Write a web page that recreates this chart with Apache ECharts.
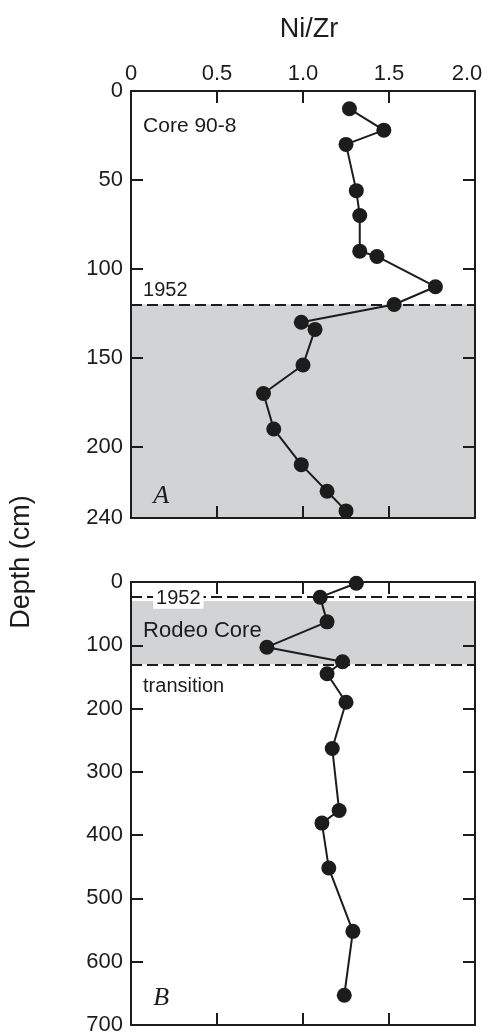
<!DOCTYPE html>
<html>
<head>
<meta charset="utf-8">
<script src="https://cdn.jsdelivr.net/npm/echarts@6/dist/echarts.min.js"></script>
<style>
html,body{margin:0;padding:0;background:#fff;}
#chart{width:485px;height:1036px;}
</style>
</head>
<body>
<div id="chart"></div>
<script>
// ---- data ----
const xTickValues = [0, 0.5, 1.0, 1.5, 2.0];
const topYLabels = [0, 50, 100, 150, 200, 240];
const botYLabels = [0, 100, 200, 300, 400, 500, 600, 700];

// Core 90-8 (panel A)
const topRatio = [1.27, 1.47, 1.25, 1.31, 1.33, 1.33, 1.43, 1.77, 1.53, 0.99, 1.07, 1.00, 0.77, 0.83, 0.99, 1.14, 1.25];
const topDepth = [10, 22, 30, 56, 70, 90, 93, 110, 120, 130, 134, 154, 170, 190, 210, 225, 236];

// Rodeo Core (panel B)
const botRatio = [1.31, 1.10, 1.14, 0.79, 1.23, 1.14, 1.25, 1.17, 1.21, 1.11, 1.15, 1.29, 1.24];
const botDepth = [2, 24, 63, 103, 126, 145, 190, 263, 361, 381, 452, 552, 653];

const topDash = 120;           // 1952 horizon, core 90-8
const topShade = [120, 240];
const botDash = [24, 130];     // 1952 horizon and transition
const botShade = [30, 130];

const INK = '#1c1c1c';
const SHADE = '#d1d3d4';
const FONT = '"Liberation Sans Narrow", "Arial Narrow", "Liberation Sans", sans-serif';

const chart = echarts.init(document.getElementById('chart'), null, {renderer: 'canvas'});

function xAxisDef(gridIndex, position, showLabels) {
  return {
    type: 'value', gridIndex, position, min: 0, max: 2, interval: 0.5, z: 10,
    axisLine: {show: true, onZero: false, lineStyle: {color: INK, width: 2}},
    axisTick: {show: true, inside: true, length: 12, lineStyle: {color: INK, width: 2}},
    axisLabel: {show: showLabels, margin: 6, color: INK, fontSize: 22, fontFamily: FONT,
      customValues: xTickValues,
      formatter: v => v === 0 ? '0' : (v === 2 ? '{m|' + v.toFixed(1) + '}' : v.toFixed(1)),
      rich: {m: {fontSize: 22, fontFamily: FONT, color: INK, padding: [0, 16, 0, 0]}}},
    splitLine: {show: false}
  };
}
function yAxisDef(gridIndex, position, max, interval, labels, showLabels) {
  return {
    type: 'value', gridIndex, position, min: 0, max, interval, inverse: true, z: 10,
    axisLine: {show: true, onZero: false, lineStyle: {color: INK, width: 2}},
    axisTick: {show: true, inside: true, length: 12, lineStyle: {color: INK, width: 2},
      customValues: labels.filter(v => v !== 0 && v !== max)},
    axisLabel: {show: showLabels, margin: 8, color: INK, fontSize: 22, fontFamily: FONT,
      customValues: labels, showMaxLabel: true},
    splitLine: {show: false}
  };
}

const pairsTop = topRatio.map((r, i) => [r, topDepth[i]]);
const pairsBot = botRatio.map((r, i) => [r, botDepth[i]]);

const option = {
  animation: false,
  backgroundColor: '#fff',
  title: {
    text: 'Ni/Zr', left: 304, top: 11, textAlign: 'center',
    textStyle: {fontSize: 27, fontWeight: 'normal', color: INK, fontFamily: FONT}
  },
  grid: [
    {left: 131, width: 344, top: 91, height: 427, outerBoundsMode: 'none', containLabel: false},
    {left: 131, width: 344, top: 582, height: 443, outerBoundsMode: 'none', containLabel: false}
  ],
  xAxis: [
    xAxisDef(0, 'top', true),
    xAxisDef(0, 'bottom', false),
    xAxisDef(1, 'top', false),
    xAxisDef(1, 'bottom', false)
  ],
  yAxis: [
    yAxisDef(0, 'left', 240, 50, topYLabels, true),
    yAxisDef(0, 'right', 240, 50, topYLabels, false),
    yAxisDef(1, 'left', 700, 100, botYLabels, true),
    yAxisDef(1, 'right', 700, 100, botYLabels, false)
  ],
  series: [
    {
      type: 'line', xAxisIndex: 0, yAxisIndex: 0, data: pairsTop,
      symbol: 'circle', symbolSize: 15, z: 5,
      lineStyle: {color: INK, width: 2}, itemStyle: {color: INK},
      markArea: {silent: true, itemStyle: {color: SHADE}, data: [[{yAxis: topShade[0]}, {yAxis: topShade[1]}]]},
      markLine: {silent: true, symbol: 'none', label: {show: false},
        lineStyle: {color: INK, width: 2, type: [11, 5]}, data: [{yAxis: topDash}]}
    },
    {
      type: 'line', xAxisIndex: 3, yAxisIndex: 2, data: pairsBot,
      symbol: 'circle', symbolSize: 15, z: 5,
      lineStyle: {color: INK, width: 2}, itemStyle: {color: INK},
      markArea: {silent: true, itemStyle: {color: SHADE}, data: [[{yAxis: botShade[0]}, {yAxis: botShade[1]}]]},
      markLine: {silent: true, symbol: 'none', label: {show: false},
        lineStyle: {color: INK, width: 2, type: [11, 5]}, data: [{yAxis: botDash[0]}, {yAxis: botDash[1]}]}
    }
  ]
};
chart.setOption(option);

// annotations anchored to data coordinates
function px(gridIdx, x, y) {
  return chart.convertToPixel({xAxisIndex: gridIdx === 0 ? 0 : 3, yAxisIndex: gridIdx === 0 ? 0 : 2}, [x, y]);
}
const textStyle = (t, size, extra) => Object.assign({text: t, fontSize: size, fontFamily: FONT, fill: INK}, extra || {});
const SERIF = '"Liberation Serif", "DejaVu Serif", serif';
const pCore = px(0, 0.07, 20);
const pA1952 = px(0, 0.07, topDash);
const pA = px(0, 0.13, 228);
const pB1952 = px(1, 0.07, botDash[0]);
const pRodeo = px(1, 0.07, 77);
const pTrans = px(1, 0.07, 165);
const pB = px(1, 0.13, 658);

chart.setOption({
  graphic: [
    {type: 'text', z: 100, x: pCore[0], y: pCore[1], style: textStyle('Core 90-8', 21, {textVerticalAlign: 'middle'})},
    {type: 'text', z: 100, x: pA1952[0], y: pA1952[1] - 4, style: textStyle('1952', 20, {textVerticalAlign: 'bottom'})},
    {type: 'text', z: 100, x: pA[0], y: pA[1], style: textStyle('A', 26, {fontFamily: SERIF, fontStyle: 'italic', textVerticalAlign: 'middle'})},
    {type: 'text', z: 100, x: pB1952[0] + 10, y: pB1952[1] + 1, style: textStyle('1952', 20, {textVerticalAlign: 'middle', backgroundColor: '#fff', padding: [1, 3, 0, 3]})},
    {type: 'text', z: 100, x: pRodeo[0], y: pRodeo[1], style: textStyle('Rodeo Core', 22, {textVerticalAlign: 'middle'})},
    {type: 'text', z: 100, x: pTrans[0], y: pTrans[1], style: textStyle('transition', 20, {textVerticalAlign: 'middle'})},
    {type: 'text', z: 100, x: pB[0], y: pB[1], style: textStyle('B', 26, {fontFamily: SERIF, fontStyle: 'italic', textVerticalAlign: 'middle'})},
    {type: 'text', z: 100, x: 22, y: 562, rotation: Math.PI / 2, style: textStyle('Depth (cm)', 27, {textAlign: 'center', textVerticalAlign: 'middle'})}
  ]
});
</script>
</body>
</html>
